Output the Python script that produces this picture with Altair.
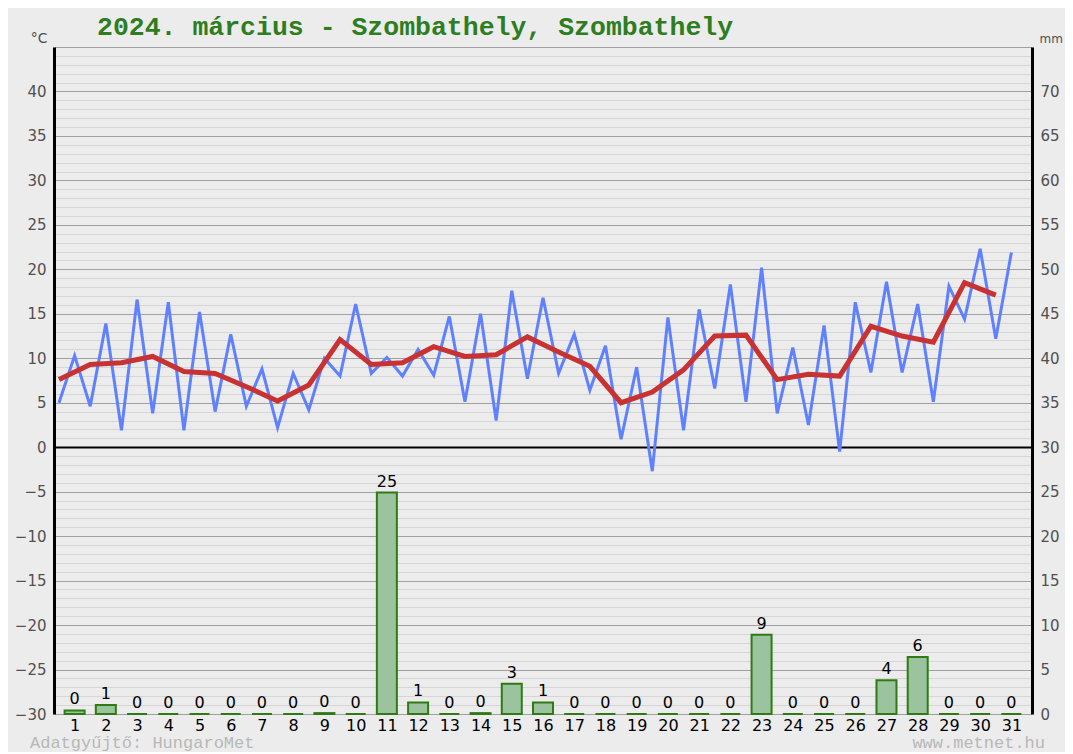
import altair as alt
import pandas as pd

title_text = "2024. március - Szombathely, Szombathely"
days = list(range(1, 32))
tmin = [5.0, 4.6, 1.9, 3.8, 1.9, 4.0, 4.6, 2.2, 4.2, 8.0, 8.3, 8.0, 8.1, 5.1, 3.0, 7.7,
        8.3, 6.4, 0.9, -2.7, 1.9, 6.6, 5.1, 3.8, 2.5, -0.5, 8.4, 8.4, 5.1, 14.4, 12.2]
tmax = [10.3, 13.9, 16.6, 16.3, 15.2, 12.7, 8.8, 8.3, 10.0, 16.1, 10.1, 11.0, 14.7, 15.0, 17.6, 16.8,
        12.7, 11.4, 9.0, 14.6, 15.5, 18.3, 20.2, 11.2, 13.7, 16.3, 18.6, 16.1, 18.1, 22.3, 21.9]
tmean = [7.6, 9.3, 9.5, 10.2, 8.5, 8.3, 6.8, 5.2, 7.0, 12.1, 9.3, 9.5, 11.3, 10.2, 10.4, 12.4,
         10.7, 9.1, 5.0, 6.2, 8.7, 12.5, 12.6, 7.6, 8.2, 8.0, 13.6, 12.5, 11.8, 18.5, 17.1]
precip = [0.4, 1.0, 0, 0, 0, 0, 0, 0, 0.1, 0, 24.9, 1.3, 0, 0.1, 3.4, 1.3,
          0, 0, 0, 0, 0, 0, 8.9, 0, 0, 0, 3.8, 6.4, 0, 0, 0]
temp_ticks = list(range(-30, 45, 5))
mm_ticks = list(range(0, 76))
footer_left = "Adatgyűjtő: HungaroMet"
footer_right = "www.metnet.hu"

blue_df = pd.DataFrame({
    "t": [v for d in days for v in (d - 0.5, d)],
    "temp": [v for a, b in zip(tmin, tmax) for v in (a, b)],
})
red_df = pd.DataFrame({"t": [d - 0.5 for d in days], "temp": tmean})
rain_df = pd.DataFrame({"day": days, "mm": precip,
                        "label": [str(int(round(v))) for v in precip]})

FONT = "DejaVu Sans"
xscale = alt.Scale(domain=[0.5, 31.5], nice=False, zero=False)
xaxis = alt.Axis(values=days, format="d", grid=False, ticks=False, domain=False,
                 labelFont=FONT, labelFontSize=16, labelColor="#000000",
                 labelPadding=3, title=None)
tscale = alt.Scale(domain=[-30, 45], nice=False, zero=False)
mscale = alt.Scale(domain=[0, 75], nice=False, zero=False)

left_axis = alt.Axis(orient="left", values=temp_ticks, grid=False, ticks=False,
                     domainColor="#000000", domainWidth=3, labelPadding=8,
                     labelFont=FONT, labelFontSize=15, labelColor="#505050",
                     title="°C", titleAngle=0, titleX=-7, titleY=-2, titleAlign="right",
                     titleBaseline="bottom", titleFont=FONT, titleFontSize=14,
                     titleFontWeight="normal", titleColor="#505050")
right_axis = alt.Axis(
    orient="right", values=mm_ticks,
    labelExpr="datum.value % 5 === 0 && datum.value < 75 ? datum.label : ''",
    grid=True,
    gridColor={"condition": [{"test": "datum.value === 30", "value": "#000000"},
                             {"test": "datum.value % 5 === 0", "value": "#a0a0a0"}],
               "value": "#d6d6d6"},
    gridWidth={"condition": {"test": "datum.value === 30", "value": 2}, "value": 1},
    ticks=False, domainColor="#000000", domainWidth=3, labelPadding=8,
    labelFont=FONT, labelFontSize=15, labelColor="#505050",
    title="mm", titleAngle=0, titleX=7, titleY=-2, titleAlign="left",
    titleBaseline="bottom", titleFont=FONT, titleFontSize=12,
    titleFontWeight="normal", titleColor="#505050")

bars = alt.Chart(rain_df).mark_bar(size=20, fill="#9bc39d", stroke="#2f7a14",
                                   strokeWidth=2).encode(
    x=alt.X("day:Q", scale=xscale, axis=xaxis),
    y=alt.Y("mm:Q", scale=mscale, axis=right_axis),
)
bar_text = alt.Chart(rain_df).mark_text(baseline="bottom", dy=-3, font=FONT,
                                        fontSize=16, color="#000000").encode(
    x=alt.X("day:Q", scale=xscale, axis=xaxis),
    y=alt.Y("mm:Q", scale=mscale, axis=right_axis),
    text="label:N",
)
rain_layer = alt.layer(bars, bar_text)

blue = alt.Chart(blue_df).mark_line(color="#5f80ff", strokeWidth=3).encode(
    x=alt.X("t:Q", scale=xscale, axis=xaxis),
    y=alt.Y("temp:Q", scale=tscale, axis=left_axis),
)
red = alt.Chart(red_df).mark_line(color="#c83232", strokeWidth=5).encode(
    x=alt.X("t:Q", scale=xscale, axis=xaxis),
    y=alt.Y("temp:Q", scale=tscale, axis=left_axis),
)
foot_l = alt.Chart(pd.DataFrame({"txt": [footer_left]})).mark_text(
    align="left", baseline="alphabetic", font="Liberation Mono", fontSize=17,
    color="#b8b8b8").encode(x=alt.value(-24), y=alt.value(701), text="txt:N")
foot_r = alt.Chart(pd.DataFrame({"txt": [footer_right]})).mark_text(
    align="right", baseline="alphabetic", font="Liberation Mono", fontSize=17,
    color="#b8b8b8").encode(x=alt.value(991), y=alt.value(701), text="txt:N")
temp_layer = alt.layer(blue, red, foot_l, foot_r)

chart = alt.layer(rain_layer, temp_layer).resolve_scale(y="independent").properties(
    width=978, height=667,
    autosize=alt.AutoSizeParams(type="none"),
    padding={"left": 46, "top": 39, "right": 33, "bottom": 38},
    background="#ececec",
    title=alt.TitleParams(title_text, anchor="start", frame="group", dx=43, dy=13,
                          offset=4, font="Liberation Mono", fontSize=26.5,
                          fontWeight="bold", color="#2e7d1f"),
).configure_view(stroke=None)

chart.save("out.html", embed_options={"renderer": "svg", "actions": False})
